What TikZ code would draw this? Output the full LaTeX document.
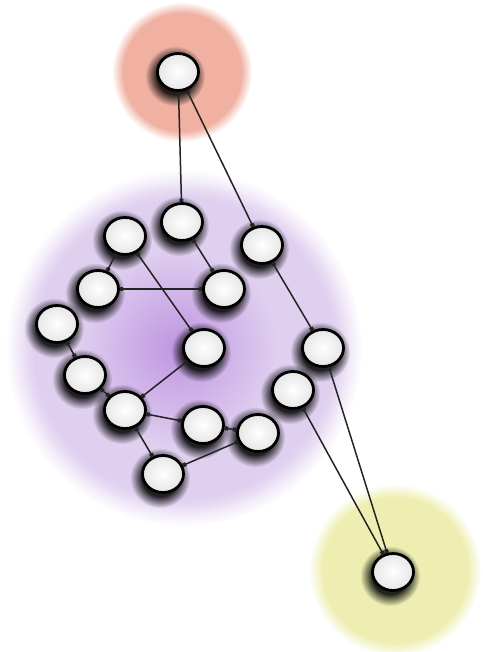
\documentclass[tikz,border=0pt]{standalone}
\usetikzlibrary{shapes.geometric,arrows.meta,fadings}
\definecolor{glowred}{RGB}{240,176,162}
\definecolor{glowlav}{RGB}{224,208,240}
\definecolor{glowpur}{RGB}{170,110,215}
\definecolor{glowyel}{RGB}{238,238,178}
\definecolor{edgecol}{RGB}{35,35,35}
\pgfdeclareradialshading{fuzzyshade}{\pgfpointorigin}{color(0bp)=(pgftransparent!0); color(21bp)=(pgftransparent!0); color(25bp)=(pgftransparent!100); color(50bp)=(pgftransparent!100)}
\pgfdeclareradialshading{softshade}{\pgfpointorigin}{color(0bp)=(pgftransparent!0); color(25bp)=(pgftransparent!100); color(50bp)=(pgftransparent!100)}
\pgfdeclareradialshading{shadshade}{\pgfpointorigin}{color(0bp)=(pgftransparent!0); color(15bp)=(pgftransparent!0); color(25bp)=(pgftransparent!100); color(50bp)=(pgftransparent!100)}
\pgfdeclarefading{fuzzyglow}{\pgfuseshading{fuzzyshade}}
\pgfdeclarefading{softglow}{\pgfuseshading{softshade}}
\pgfdeclarefading{shadglow}{\pgfuseshading{shadshade}}
\tikzset{
  vtx/.style={ellipse, draw=black, line width=2.8pt, minimum width=41pt, minimum height=37pt, inner sep=0pt, inner color=white, outer color=black!10},
  lnk/.style={draw=edgecol, line width=1.5pt, {Square[length=3.5pt,width=4pt]}-{Square[length=3.5pt,width=4pt]}},
}
\begin{document}
\begin{tikzpicture}[x=1pt,y=-1pt]
\useasboundingbox (0,0) rectangle (482,652);
% glows
\fill[glowred, path fading=fuzzyglow] (182,72) circle (70);
\fill[glowlav, path fading=fuzzyglow] (184,348) circle (178);
\fill[glowlav, opacity=0.6, path fading=fuzzyglow] (184,348) circle (165);
\fill[glowpur, opacity=0.6, path fading=softglow] (178,348) circle (100);
\fill[glowyel, path fading=fuzzyglow] (395,570) circle (86);
% shadows
\foreach \px/\py in {178/72,182/222,125/236,262/245,98/289,224/289,57/324,204/348,323/348,85/375,293/390,125/410,203/425,258/433,163/474,393/572}{
  \fill[black, opacity=0.85, path fading=shadglow] (\px-3,\py+4) circle (30);
}
% nodes
\node[vtx] (a) at (178,72) {};
\node[vtx] (b) at (182,222) {};
\node[vtx] (c) at (125,236) {};
\node[vtx] (d) at (262,245) {};
\node[vtx] (e) at (98,289) {};
\node[vtx] (f) at (224,289) {};
\node[vtx] (g) at (57,324) {};
\node[vtx] (h) at (204,348) {};
\node[vtx] (i) at (323,348) {};
\node[vtx] (j) at (85,375) {};
\node[vtx] (k) at (293,390) {};
\node[vtx] (l) at (125,410) {};
\node[vtx] (m) at (203,425) {};
\node[vtx] (n) at (258,433) {};
\node[vtx] (o) at (163,474) {};
\node[vtx] (p) at (393,572) {};
% edges
\path[lnk] (a) -- (b);
\path[lnk] (a) -- (d);
\path[lnk] (b) -- (f);
\path[lnk] (c) -- (e);
\path[lnk] (c) -- (h);
\path[lnk] (e) -- (f);
\path[lnk] (d) -- (i);
\path[lnk] (g) -- (j);
\path[lnk] (j) -- (l);
\path[lnk] (l) -- (h);
\path[lnk] (l) -- (m);
\path[lnk] (l) -- (o);
\path[lnk] (m) -- (n);
\path[lnk] (o) -- (n);
\path[lnk] (i) -- (p);
\path[lnk] (k) -- (p);
\end{tikzpicture}
\end{document}
